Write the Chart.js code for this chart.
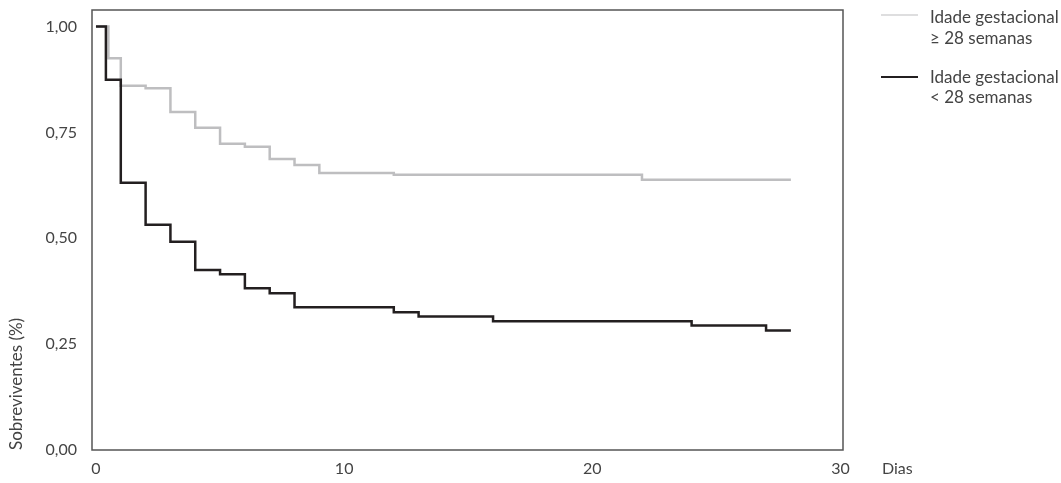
<!DOCTYPE html>
<html>
<head>
<meta charset="utf-8">
<script src="https://cdn.jsdelivr.net/npm/chart.js@4/dist/chart.umd.min.js"></script>
<style>
  html, body { margin: 0; padding: 0; background: #fff; }
  #wrap { width: 1061px; height: 483px; }
</style>
</head>
<body>
<div id="wrap"><canvas id="km"></canvas></div>
<script>
// Kaplan-Meier: step times (days) and survival from that time on
var daysAbove28 = [0, 0.5, 1, 2, 3, 4, 5, 6, 7, 8, 9, 12, 22];
var survAbove28 = [1, 0.925, 0.86, 0.854, 0.798, 0.761, 0.723, 0.716, 0.687, 0.673, 0.654, 0.650, 0.638];
var daysBelow28 = [0, 0.4, 1, 2, 3, 4, 5, 6, 7, 8, 12, 13, 16, 24, 27];
var survBelow28 = [1, 0.874, 0.631, 0.532, 0.492, 0.425, 0.415, 0.382, 0.370, 0.337, 0.325, 0.315, 0.304, 0.294, 0.282];
var lastDay = 28;

var yTicks = [0, 0.25, 0.5, 0.75, 1];
var xTicks = [0, 10, 20, 30];

var legendLabels = [
  ['Idade gestacional', '\u2265 28 semanas'],
  ['Idade gestacional', '< 28 semanas']
];
var grayCol = 'rgb(190,190,192)';
var darkCol = 'rgb(35,31,32)';
var txtCol = '#444';

function toPoints(days, surv) {
  var pts = [];
  for (var i = 0; i < days.length; i++) {
    pts.push({x: days[i], y: surv[i]});
  }
  pts.push({x: lastDay, y: surv[surv.length - 1]});
  return pts;
}

var decor = {
  id: 'decor',
  beforeDatasetsDraw: function(chart) {
    var a = chart.chartArea, c = chart.ctx;
    c.save();
    c.strokeStyle = 'rgb(85,85,85)';
    c.lineWidth = 1.5;
    c.strokeRect(a.left, a.top, a.right - a.left, a.bottom - a.top);
    c.restore();
  },
  afterDraw: function(chart) {
    var a = chart.chartArea, c = chart.ctx;
    c.save();
    c.font = '16px Lato';
    c.fillStyle = txtCol;
    c.textBaseline = 'middle';
    c.fillText('Dias', a.right + 39, a.bottom + 19);
    c.font = '17px Lato';
    var cols = [grayCol, darkCol];
    var ys = [15, 77];
    var t1 = [18, 78], t2 = [39, 98];
    for (var i = 0; i < legendLabels.length; i++) {
      c.strokeStyle = cols[i];
      c.lineWidth = i == 0 ? 1.2 : 1.8;
      c.beginPath();
      c.moveTo(a.right + 38, ys[i]);
      c.lineTo(a.right + 75, ys[i]);
      c.stroke();
      c.fillText(legendLabels[i][0], a.right + 87, t1[i]);
      c.fillText(legendLabels[i][1], a.right + 87, t2[i]);
    }
    c.restore();
  }
};

new Chart(document.getElementById('km'), {
  type: 'line',
  data: {
    datasets: [
      {
        label: legendLabels[1].join(' '),
        data: toPoints(daysBelow28, survBelow28),
        borderColor: darkCol,
        borderWidth: 2.5,
        stepped: 'before',
        pointRadius: 0,
        fill: false
      },
      {
        label: legendLabels[0].join(' '),
        data: toPoints(daysAbove28, survAbove28),
        borderColor: grayCol,
        borderWidth: 2.5,
        stepped: 'before',
        pointRadius: 0,
        fill: false
      }
    ]
  },
  options: {
    responsive: true,
    maintainAspectRatio: false,
    animation: false,
    layout: { padding: { top: 10, right: 218, left: 0, bottom: 0 } },
    plugins: { legend: { display: false }, tooltip: { enabled: false } },
    scales: {
      x: {
        type: 'linear',
        min: -0.16,
        max: 30.1,
        afterFit: function(s) { s.height = 33; s.paddingLeft = 0; s.paddingRight = 0; },
        afterBuildTicks: function(s) { s.ticks = xTicks.map(function(v) { return {value: v}; }); },
        grid: { display: false, drawTicks: false },
        border: { display: false },
        ticks: { padding: 9, color: txtCol, font: { family: 'Lato', size: 16 } }
      },
      y: {
        min: 0,
        max: 1.039,
        afterFit: function(s) { s.width = 92; s.paddingTop = 0; s.paddingBottom = 0; },
        afterBuildTicks: function(s) { s.ticks = yTicks.map(function(v) { return {value: v}; }); },
        grid: { display: false, drawTicks: false },
        border: { display: false },
        ticks: {
          padding: 15,
          color: txtCol,
          font: { family: 'Lato', size: 16 },
          callback: function(v) { return v.toFixed(2).replace('.', ','); }
        },
        title: {
          display: true,
          text: 'Sobreviventes (%)',
          align: 'start',
          color: txtCol,
          font: { family: 'Lato', size: 17 },
          padding: { top: 6, bottom: 0 }
        }
      }
    }
  },
  plugins: [decor]
});
</script>
</body>
</html>
